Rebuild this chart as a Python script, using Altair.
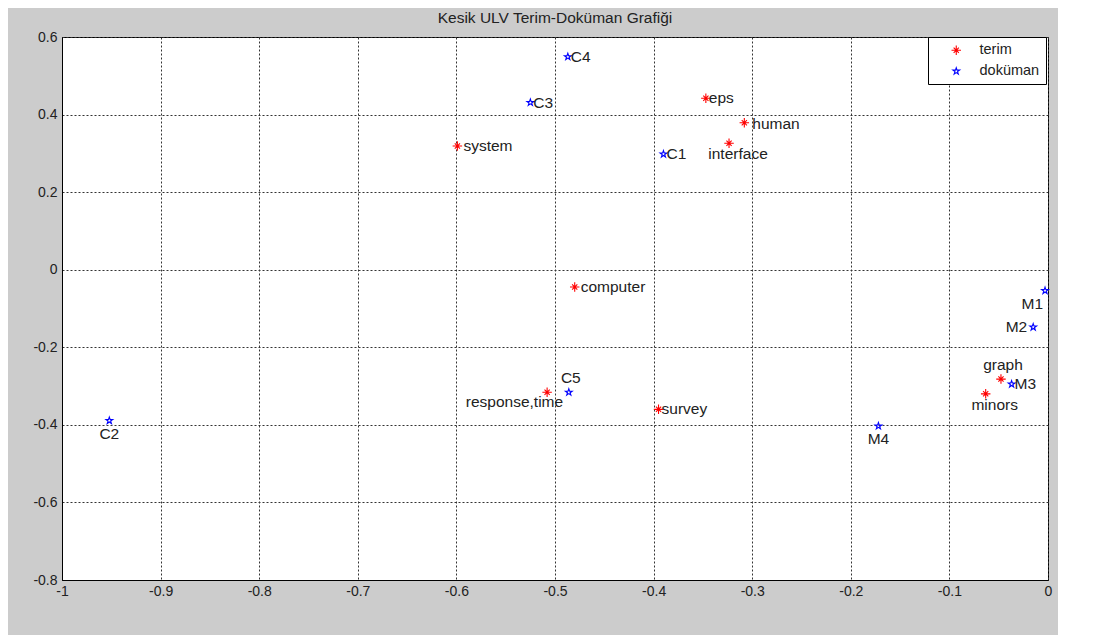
import altair as alt
import pandas as pd

# ---- data ----
names = ["system", "eps", "human", "interface", "computer", "graph", "minors",
         "response,time", "survey",
         "C1", "C2", "C3", "C4", "C5", "M1", "M2", "M3", "M4"]
xs = [-0.599, -0.347, -0.308, -0.3235, -0.480, -0.0477, -0.0632,
      -0.508, -0.395,
      -0.390, -0.952, -0.525, -0.487, -0.486, -0.003, -0.015, -0.0369, -0.172]
ys = [0.319, 0.442, 0.379, 0.326, -0.0445, -0.282, -0.320,
      -0.316, -0.360,
      0.298, -0.389, 0.431, 0.549, -0.316, -0.054, -0.148, -0.295, -0.403]
kinds = ["terim"] * 9 + ["doküman"] * 9

# label placement group of each text label
label_pos = ["r6", "r4", "r8", "below_r", "r6", "above", "below_r",
             "rt", "r4", "r4", "below", "r4", "r4", "above", "m1", "l6", "r4", "below"]

# group -> (dx, dy, align)
placements = {
    "r4": (3, 0, "left"),
    "r6": (6, 0, "left"),
    "r8": (8, 1, "left"),
    "below_r": (9, 11, "center"),
    "above": (2, -14, "center"),
    "below": (0, 13, "center"),
    "rt": (16, 10, "right"),
    "m1": (-2, 13, "right"),
    "l6": (-6, 0, "right"),
}

x_ticks = [-1, -0.9, -0.8, -0.7, -0.6, -0.5, -0.4, -0.3, -0.2, -0.1, 0]
y_ticks = [-0.8, -0.6, -0.4, -0.2, 0, 0.2, 0.4, 0.6]

df = pd.DataFrame({"name": names, "x": xs, "y": ys, "kind": kinds, "pos": label_pos})

ASTER = "M-1,0L1,0M0,-1L0,1M-0.55,-0.55L0.55,0.55M-0.55,0.55L0.55,-0.55"
STAR = ("M0,-1L0.2245,-0.309L0.951,-0.309L0.363,0.118L0.588,0.809L0,0.382"
        "L-0.588,0.809L-0.363,0.118L-0.951,-0.309L-0.2245,-0.309Z")

FONT = "Liberation Sans"
LBL = "replace(format(datum.value, '~g'), '\u2212', '-')"

xscale = alt.Scale(domain=[-1, 0], nice=False, zero=False)
yscale = alt.Scale(domain=[-0.8, 0.6], nice=False, zero=False)

xax = alt.Axis(values=x_ticks, labelExpr=LBL, title=None, grid=True, ticks=False,
               labelPadding=4, labelFontSize=14, labelFont=FONT,
               labelColor="#222222", domainColor="#000000",
               gridColor="#333333", gridDash=[2, 2], gridOpacity=1,
               labelFlush=False)
yax = alt.Axis(values=y_ticks, labelExpr=LBL, title=None, grid=True, ticks=False,
               labelPadding=5, labelFontSize=14, labelFont=FONT,
               labelColor="#222222", domainColor="#000000",
               gridColor="#333333", gridDash=[2, 2], gridOpacity=1,
               labelFlush=False)

leg = alt.Legend(title=None, orient="none", legendX=866, legendY=0,
                 fillColor="#ffffff", strokeColor="#000000",
                 padding=6, symbolOffset=15, labelOffset=16,
                 labelFontSize=14.5, labelFont=FONT, labelColor="#222222",
                 rowPadding=5, symbolSize=55, symbolStrokeWidth=1.1)

base = alt.Chart(df)

points = base.mark_point(filled=False, strokeWidth=1.1, opacity=1).encode(
    x=alt.X("x:Q", scale=xscale, axis=xax),
    y=alt.Y("y:Q", scale=yscale, axis=yax),
    color=alt.Color("kind:N",
                    scale=alt.Scale(domain=["terim", "doküman"], range=["#ff0000", "#0000ff"]),
                    legend=leg),
    shape=alt.Shape("kind:N",
                    scale=alt.Scale(domain=["terim", "doküman"], range=[ASTER, STAR]),
                    legend=leg),
    size=alt.Size("kind:N",
                  scale=alt.Scale(domain=["terim", "doküman"], range=[90, 50]),
                  legend=None),
)

layers = [points]
for key, (dx, dy, al) in placements.items():
    layers.append(
        base.transform_filter(alt.datum.pos == key)
        .mark_text(dx=dx, dy=dy, align=al, baseline="middle",
                   fontSize=15.5, font=FONT, color="#222222")
        .encode(
            x=alt.X("x:Q", scale=xscale),
            y=alt.Y("y:Q", scale=yscale),
            text=alt.Text("name:N"),
        )
    )

chart = alt.layer(*layers).properties(
    width=986, height=543,
    title=alt.Title("Kesik ULV Terim-Doküman Grafiği", fontSize=15.5, font=FONT,
                    fontWeight="normal", color="#222222", offset=4, anchor="middle"),
    autosize=alt.AutoSizeParams(type="none"),
    padding={"left": 54, "top": 29, "right": 10, "bottom": 55},
).configure(background="#cccccc").configure_view(
    fill="#ffffff", stroke="#000000", strokeWidth=1
)

chart.save("out.html", embed_options={"renderer": "svg", "actions": False})
